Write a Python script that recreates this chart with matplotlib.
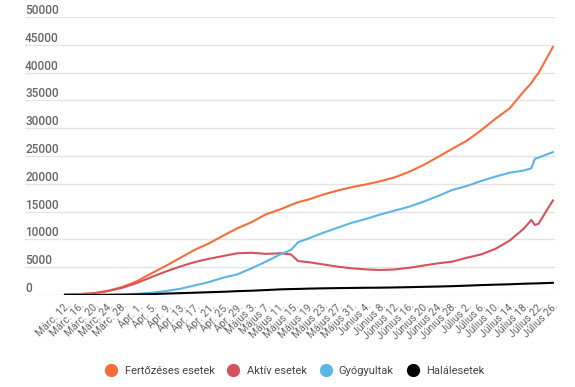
import matplotlib
matplotlib.use("Agg")
import matplotlib.pyplot as plt
from matplotlib.lines import Line2D
import pandas as pd

# dates (2020) and values
dates = ["03-12","03-16","03-20","03-24","03-28","04-01","04-05","04-09","04-13","04-17",
         "04-21","04-25","04-29","05-03","05-07","05-11","05-14","05-16","05-19","05-23",
         "05-27","05-31","06-04","06-08","06-12","06-16","06-20","06-24","06-28","07-02",
         "07-06","07-10","07-14","07-18","07-20","07-21","07-22","07-26"]
cases = [89,168,308,762,1452,2460,3864,5202,6633,8067,
         9242,10635,11978,13100,14500,15400,16200,16700,17200,18070,
         18800,19400,19900,20480,21180,22170,23400,24830,26310,27750,
         29620,31700,33600,36700,38100,39100,39900,44600]
active = [85,160,290,700,1300,2150,3200,4200,5100,5900,
          6500,7000,7500,7600,7400,7500,7300,6100,5900,5500,
          5100,4800,4600,4500,4600,4900,5300,5700,6000,6700,
          7300,8300,9800,12000,13500,12600,12800,17000]
recovered = [0,5,25,70,150,220,400,700,1100,1700,
             2300,3100,3700,4800,6000,7300,8100,9500,10200,11200,
             12100,13000,13700,14500,15200,15900,16800,17800,18900,19600,
             20500,21300,22000,22400,22800,24500,24700,25700]
deaths = [0,0,2,17,37,92,151,248,331,411,
          498,575,693,771,888,1011,1070,1090,1150,1200,
          1240,1270,1300,1320,1360,1410,1470,1520,1590,1680,
          1780,1860,1930,2030,2070,2080,2100,2190]

series_names = ["Fertőzéses esetek", "Aktív esetek", "Gyógyultak", "Halálesetek"]
series_colors = ["#F76D3A", "#D5515C", "#5DB5E4", "#000000"]

tick_labels = ["Márc. 12.","Márc. 16.","Márc. 20.","Márc. 24.","Márc. 28.",
               "Ápr. 1.","Ápr. 5.","Ápr. 9.","Ápr. 13.","Ápr. 17.","Ápr. 21.","Ápr. 25.","Ápr. 29.",
               "Május 3.","Május 7.","Május 11.","Május 15.","Május 19.","Május 23.","Május 27.","Május 31.",
               "Június 4.","Június 8.","Június 12.","Június 16.","Június 20.","Június 24.","Június 28.",
               "Július 2.","Július 6.","Július 10.","Július 14.","Július 18.","Július 22.","Július 26."]

plt.rcParams['font.family'] = ['Roboto', 'DejaVu Sans']

start = pd.Timestamp("2020-03-12")
x = [(pd.Timestamp("2020-" + d) - start).days for d in dates]
tick_pos = list(range(0, 137, 4))

fig = plt.figure(figsize=(5.75, 3.87), dpi=100)
ax = fig.add_axes([25/575, 92/387, 530/575, 278/387])

for vals, col in zip([cases, active, recovered, deaths], series_colors):
    ax.plot(x, vals, color=col, lw=1.5, solid_joinstyle='round')

ax.set_xlim(-11.15, 136.6)
ax.set_ylim(0, 50000)
yt = list(range(0, 50001, 5000))
for v in yt:
    ax.axhline(v, color="#e3e3e3", lw=1, zorder=0)
    ax.text(0, v, f"{v}", transform=ax.get_yaxis_transform(), ha='left', va='bottom',
            fontsize=8.5, color='#666666', fontweight='medium')
ax.set_yticks([])
for s in ax.spines.values():
    s.set_visible(False)

ax.set_xticks(tick_pos)
ax.set_xticklabels(tick_labels, rotation=45, ha='right', va='top', rotation_mode='anchor',
                   fontsize=7.5, color='#666666')
ax.tick_params(axis='x', length=0, pad=4)

handles = [Line2D([], [], marker='o', ls='none', color=c, markersize=8.5) for c in series_colors]
fig.legend(handles, series_names, loc='center', bbox_to_anchor=(295/575, 16/387), ncol=4,
           frameon=False, fontsize=8, handlelength=1.0, handletextpad=0.7, columnspacing=1.2,
           labelcolor='#444444')

fig.savefig("out.png", dpi=100)
